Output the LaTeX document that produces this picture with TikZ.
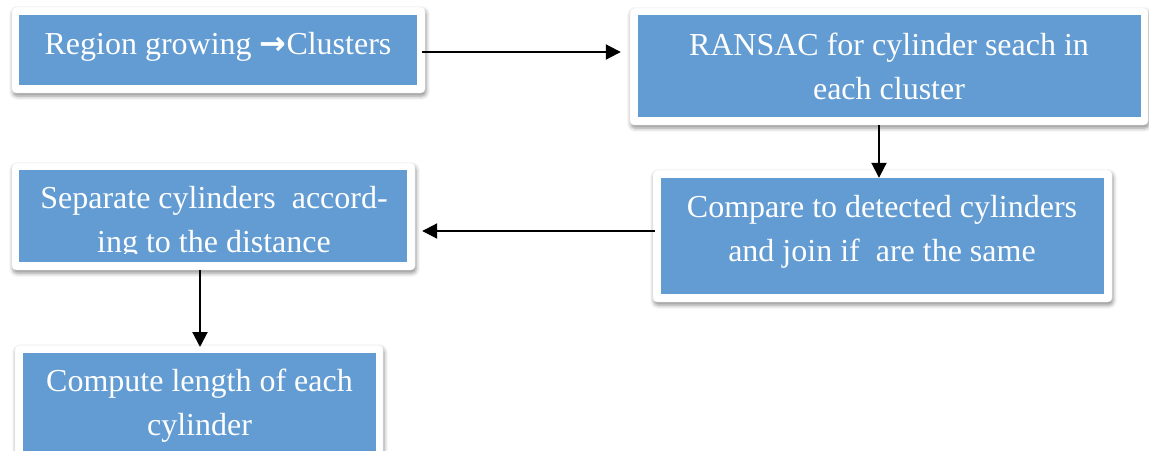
\documentclass[tikz,border=0pt]{standalone}
\usepackage{fontspec}
\setmainfont{Liberation Serif}
\newfontfamily\arrowglyph{DejaVu Sans}
\usetikzlibrary{arrows.meta,shadows.blur}
\definecolor{boxblue}{RGB}{98,156,210}
\tikzset{
  frame/.style={draw=black!8, fill=white, rounded corners=4pt, inner sep=0pt,
    blur shadow={shadow xshift=1pt, shadow yshift=-3pt, shadow blur radius=4pt, shadow opacity=45}},
  panel/.style={fill=boxblue, inner sep=0pt},
  % anchor=base sits on the baseline of the last line
  lbl/.style={text=white, inner sep=0pt, align=center, anchor=base,
    font=\fontsize{32}{44}\selectfont},
  arr/.style={line width=2pt, -{Triangle[length=15pt,width=15pt]}}
}
\begin{document}
\begin{tikzpicture}[x=1pt,y=-1pt]
\useasboundingbox (0,0) rectangle (1149,450);

% box 1
\node[frame, minimum width=413pt, minimum height=86pt] (o1) at (218.5,50) {};
\node[panel, minimum width=398pt, minimum height=70pt] (i1) at (218,50) {};
\node[lbl] (t1) at (218,54) {Region growing {\arrowglyph\bfseries →}Clusters};

% box 2
\node[frame, minimum width=518pt, minimum height=117pt] (o2) at (889,66.5) {};
\node[panel, minimum width=503pt, minimum height=102pt] (i2) at (889.5,66) {};
\node[lbl] (t2) at (889,99) {RANSAC for cylinder seach in\\each cluster};

% box 3 (lower text line is cut by the text frame)
\node[frame, minimum width=403pt, minimum height=107pt] (o3) at (213.5,216.5) {};
\node[panel, minimum width=388pt, minimum height=92pt] (i3) at (213,216) {};
\begin{scope}
  \clip (19,170) rectangle (407,253);
  \node[lbl] (t3) at (214,252) {Separate cylinders~ accord-\\ing to the distance};
\end{scope}

% box 4
\node[frame, minimum width=459pt, minimum height=132pt] (o4) at (882.5,236) {};
\node[panel, minimum width=443pt, minimum height=116pt] (i4) at (882.5,236) {};
\node[lbl] (t4) at (882,261) {Compare to detected cylinders\\and join if~ are the same};

% box 5 (runs past the lower edge)
\node[frame, minimum width=368pt, minimum height=130pt, anchor=north] (o5) at (199,345) {};
\node[panel, minimum width=353pt, minimum height=120pt, anchor=north] (i5) at (199.5,353) {};
\node[lbl] (t5) at (199.5,435) {Compute length of each\\cylinder};

% connectors
\coordinate (a1s) at ([xshift=-3pt,yshift=-2pt]o1.east);
\coordinate (a3s) at ([xshift=2pt,yshift=5pt]o4.west);
\coordinate (a4s) at ([xshift=-13.5pt]o3.south);
\coordinate (a4e) at ([yshift=-2pt]o5.north);
\draw[arr] (a1s) -- ([xshift=-9pt]o2.west |- a1s);
\draw[arr] ([xshift=-10pt]o2.south) -- ([xshift=-3.5pt]i4.north);
\draw[arr] (a3s) -- ([xshift=7pt]o3.east |- a3s);
\draw[arr] (a4s) -- (a4e -| a4s);
\end{tikzpicture}
\end{document}
